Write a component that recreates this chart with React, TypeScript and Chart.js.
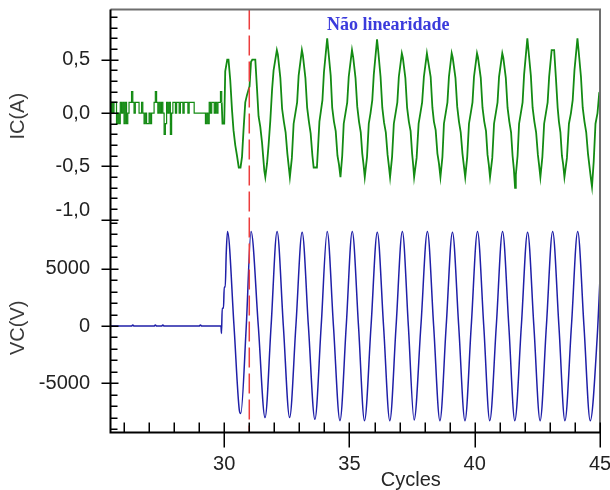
import React, { useEffect, useRef } from 'react';
import { Chart, registerables } from 'chart.js';

Chart.register(...registerables);

// ---------- axes ----------
const xRange = [25.46, 45];
const xMajorTicks = [30, 35, 40, 45];
const xMinorTicks = [26, 27, 28, 29, 31, 32, 33, 34, 36, 37, 38, 39, 41, 42, 43, 44];
const icRange = [-1.03, 0.97];
const icMajorTicks = [-1.0, -0.5, 0.0, 0.5];
const icMinorTicks = [-1.0, -0.9, -0.8, -0.7, -0.6, -0.5, -0.4, -0.3, -0.2, -0.1, 0.0, 0.1, 0.2, 0.3, 0.4, 0.5, 0.6, 0.7, 0.8, 0.9];
const vcRange = [-9300, 9000];
const vcMajorTicks = [-5000, 0, 5000];
const vcMinorTicks = [-9000, -8000, -7000, -6000, -5000, -4000, -3000, -2000, -1000, 0, 1000, 2000, 3000, 4000, 5000, 6000, 7000, 8000, 9000];

// ---------- labels ----------
const xTitle = 'Cycles';
const icTitle = 'IC(A)';
const vcTitle = 'VC(V)';
const annotationText = 'Não linearidade';
const eventCycle = 31.0;
const annotationPos = [36.55, 0.78];
const xTitlePos = 37.45;
const icRaisedLabel = -1.0;

// ---------- current IC(A) ----------
const icNoise = [
  [25.40, 0.1], [25.45, 0.0], [25.50, 0.1], [25.55, 0.0], [25.60, 0.1], [25.65, 0.1], [25.70, -0.1], [25.75, 0.0],
  [25.80, -0.1], [25.85, 0.1], [25.90, 0.0], [25.95, 0.1], [26.00, -0.1], [26.05, 0.1], [26.10, -0.1], [26.15, 0.0],
  [26.20, 0.1], [26.25, 0.1], [26.30, 0.2], [26.35, 0.1], [26.40, 0.0], [26.45, 0.1], [26.50, 0.1], [26.55, 0.1],
  [26.60, 0.0], [26.65, 0.0], [26.70, 0.1], [26.75, 0.0], [26.80, -0.1], [26.85, 0.0], [26.90, -0.1], [26.95, -0.1],
  [27.00, 0.0], [27.05, -0.1], [27.10, 0.0], [27.15, 0.0], [27.20, 0.1], [27.25, 0.2], [27.30, 0.1], [27.35, 0.0],
  [27.40, 0.1], [27.45, 0.0], [27.50, 0.1], [27.55, 0.0], [27.60, -0.2], [27.65, -0.1], [27.70, 0.1], [27.75, 0.0],
  [27.80, 0.1], [27.85, -0.2], [27.90, 0.0], [27.95, 0.1], [28.00, 0.1], [28.05, 0.0], [28.10, 0.1], [28.15, 0.1],
  [28.20, 0.0], [28.25, 0.1], [28.30, 0.1], [28.35, 0.0], [28.40, 0.1], [28.45, 0.1], [28.50, 0.1], [28.55, 0.0],
  [28.60, 0.1], [28.65, 0.1], [28.70, 0.1], [28.75, 0.1], [28.80, 0.0], [28.85, 0.0], [28.90, 0.0], [28.95, 0.0],
  [29.00, 0.0], [29.05, 0.0], [29.10, 0.0], [29.15, 0.0], [29.20, 0.0], [29.25, -0.1], [29.30, 0.0], [29.35, -0.1],
  [29.40, 0.1], [29.45, 0.0], [29.50, 0.1], [29.55, 0.1], [29.60, 0.0], [29.65, 0.1], [29.70, 0.0], [29.75, 0.1],
  [29.80, 0.1], [29.85, 0.2], [29.90, 0.1],
];
const icTransient = [
  [29.9, 0.1], [29.93, -0.1], [30.0, -0.1], [30.04, 0.39], [30.12, 0.5], [30.17, 0.5], [30.24, 0.31],
  [30.31, 0.03], [30.37, -0.16], [30.44, -0.3], [30.51, -0.4], [30.58, -0.51], [30.65, -0.51], [30.71, -0.41],
  [30.77, -0.16], [30.84, 0.1], [30.91, 0.17], [31.01, 0.25], [31.07, 0.48], [31.12, 0.5], [31.24, 0.5],
  [31.31, 0.22], [31.37, -0.03], [31.44, -0.13], [31.51, -0.28], [31.6, -0.54], [31.64, -0.6], [31.71, -0.47],
  [31.77, -0.3], [31.84, -0.07], [31.91, 0.22], [31.97, 0.4],
];
const icSteady = [
  [32.10, 0.59], [32.14, 0.55], [32.24, 0.33], [32.31, 0.04], [32.38, -0.08], [32.45, -0.18], [32.52, -0.38], [32.57, -0.49], [32.62, -0.60], [32.70, -0.42], [32.77, -0.10], [32.84, 0.0], [32.91, 0.10], [32.97, 0.35],
  [33.10, 0.59], [33.14, 0.54], [33.24, 0.33], [33.31, 0.05], [33.38, -0.08], [33.45, -0.19], [33.52, -0.40], [33.57, -0.51], [33.70, -0.51], [33.75, -0.30], [33.80, -0.08], [33.86, 0.02], [33.92, 0.12], [33.98, 0.38],
  [34.11, 0.70], [34.15, 0.60], [34.25, 0.35], [34.31, 0.05], [34.38, -0.08], [34.45, -0.17], [34.52, -0.40], [34.58, -0.48], [34.64, -0.60], [34.71, -0.40], [34.77, -0.10], [34.84, 0.0], [34.91, 0.10], [34.97, 0.34],
  [35.10, 0.59], [35.15, 0.52], [35.24, 0.33], [35.31, 0.06], [35.38, -0.08], [35.45, -0.18], [35.51, -0.38], [35.56, -0.48], [35.61, -0.60], [35.70, -0.41], [35.77, -0.10], [35.84, 0.0], [35.91, 0.12], [35.97, 0.36],
  [36.10, 0.69], [36.14, 0.60], [36.24, 0.34], [36.31, 0.05], [36.38, -0.09], [36.45, -0.18], [36.52, -0.39], [36.57, -0.49], [36.62, -0.60], [36.70, -0.41], [36.77, -0.10], [36.84, 0.0], [36.91, 0.10], [36.97, 0.34],
  [37.09, 0.56], [37.13, 0.52], [37.23, 0.33], [37.30, 0.05], [37.37, -0.08], [37.44, -0.17], [37.50, -0.38], [37.54, -0.48], [37.58, -0.60], [37.68, -0.42], [37.76, -0.10], [37.83, 0.0], [37.90, 0.10], [37.97, 0.34],
  [38.09, 0.56], [38.13, 0.50], [38.24, 0.34], [38.31, 0.05], [38.37, -0.08], [38.44, -0.16], [38.51, -0.38], [38.57, -0.47], [38.63, -0.60], [38.71, -0.41], [38.77, -0.10], [38.84, 0.0], [38.91, 0.10], [38.97, 0.34],
  [39.08, 0.56], [39.12, 0.52], [39.23, 0.33], [39.30, 0.06], [39.37, -0.08], [39.44, -0.18], [39.51, -0.38], [39.56, -0.48], [39.62, -0.60], [39.70, -0.41], [39.77, -0.10], [39.84, 0.0], [39.91, 0.10], [39.97, 0.34],
  [40.09, 0.56], [40.13, 0.52], [40.24, 0.33], [40.31, 0.05], [40.38, -0.08], [40.45, -0.17], [40.51, -0.39], [40.56, -0.48], [40.61, -0.60], [40.70, -0.42], [40.77, -0.10], [40.84, 0.0], [40.91, 0.10], [40.97, 0.34],
  [41.10, 0.56], [41.14, 0.52], [41.24, 0.33], [41.31, 0.05], [41.38, -0.08], [41.45, -0.18], [41.51, -0.40], [41.56, -0.52], [41.61, -0.70], [41.64, -0.58], [41.71, -0.40], [41.77, -0.10], [41.84, 0.0], [41.91, 0.10], [41.97, 0.36],
  [42.10, 0.70], [42.14, 0.60], [42.24, 0.35], [42.31, 0.05], [42.38, -0.08], [42.45, -0.18], [42.52, -0.39], [42.57, -0.49], [42.62, -0.60], [42.70, -0.41], [42.77, -0.10], [42.84, 0.0], [42.91, 0.10], [42.97, 0.34],
  [43.07, 0.59], [43.17, 0.59], [43.24, 0.33], [43.31, 0.05], [43.36, -0.08], [43.42, -0.18], [43.48, -0.40], [43.53, -0.48], [43.58, -0.60], [43.68, -0.42], [43.76, -0.10], [43.84, 0.0], [43.91, 0.12], [43.98, 0.40],
  [44.10, 0.70], [44.14, 0.60], [44.24, 0.34], [44.31, 0.05], [44.38, -0.08], [44.45, -0.18], [44.52, -0.38], [44.58, -0.50], [44.64, -0.62], [44.68, -0.69], [44.75, -0.45], [44.82, -0.10], [44.90, 0.0], [44.97, 0.19], [45.0, 0.20],
];

// ---------- voltage VC(V) ----------
const vcBaseline = [
  [25.4, 0], [26.3, 0], [26.35, 100], [26.4, 0], [27.2, 0], [27.25, 100], [27.3, 0], [27.5, 0], [27.55, 100],
  [27.6, 0], [29.0, 0], [29.05, 100], [29.1, 0], [29.87, 0],
];
const vcTransient = [
  [29.89, -650], [29.92, 1550], [29.97, 1550], [30.0, 3400], [30.04, 3400], [30.08, 6350], [30.13, 8250],
  [30.39, 0], [30.6, -7300], [30.66, -7650], [30.88, 0], [31.07, 8250], [31.36, 0], [31.63, -8000], [31.87, 0],
];
const vcSteady = [
  [32.11, 8250], [32.36, 0], [32.61, -8000], [32.86, 0],
  [33.11, 8200], [33.36, 0], [33.62, -8150], [33.87, 0],
  [34.11, 8250], [34.36, 0], [34.62, -8270], [34.87, 0],
  [35.11, 8250], [35.36, 0], [35.60, -8270], [35.86, 0],
  [36.11, 8200], [36.36, 0], [36.61, -8270], [36.86, 0],
  [37.11, 8250], [37.35, 0], [37.58, -8200], [37.85, 0],
  [38.11, 8250], [38.36, 0], [38.61, -8270], [38.86, 0],
  [39.11, 8200], [39.36, 0], [39.61, -8270], [39.86, 0],
  [40.11, 8250], [40.36, 0], [40.60, -8270], [40.86, 0],
  [41.11, 8250], [41.36, 0], [41.60, -8270], [41.86, 0],
  [42.11, 8200], [42.36, 0], [42.61, -8270], [42.86, 0],
  [43.11, 8250], [43.36, 0], [43.60, -8270], [43.86, 0],
  [44.11, 8250], [44.36, 0], [44.61, -8270], [44.89, -900], [45.0, 4200],
];

const toXY = (pts: number[][]) => pts.map(([x, y]) => ({ x, y }));

const tickFont = { family: "'Liberation Sans', Arial, sans-serif", size: 20 };
const titleFont = { family: "'Liberation Sans', Arial, sans-serif", size: 20 };

const zeroPad = (s: any) => {
  s.paddingTop = 0;
  s.paddingBottom = 0;
  s.paddingLeft = 0;
  s.paddingRight = 0;
};

const decorPlugin = {
  id: 'decor',
  afterDatasetsDraw(chart: any) {
    const { ctx, chartArea: a, scales } = chart;
    const xs = scales.x, yi = scales.yI, yv = scales.yV;
    ctx.save();
    // event marker
    const mx = xs.getPixelForValue(eventCycle);
    ctx.strokeStyle = '#ec3d3d';
    ctx.lineWidth = 1.5;
    ctx.setLineDash([20, 6]);
    ctx.beginPath();
    ctx.moveTo(mx, a.top);
    ctx.lineTo(mx, a.bottom);
    ctx.stroke();
    ctx.setLineDash([]);
    // frame top / right
    ctx.strokeStyle = '#6e6e6e';
    ctx.lineWidth = 2;
    ctx.beginPath();
    ctx.moveTo(a.left, a.top);
    ctx.lineTo(a.right, a.top);
    ctx.lineTo(a.right, a.bottom);
    ctx.stroke();
    // axes
    ctx.strokeStyle = '#000';
    ctx.lineWidth = 2;
    ctx.beginPath();
    ctx.moveTo(a.left, a.top);
    ctx.lineTo(a.left, a.bottom);
    ctx.lineTo(a.right, a.bottom);
    ctx.stroke();
    // ticks
    ctx.lineWidth = 1.5;
    ctx.beginPath();
    const yTick = (s: any, v: number, out: number, inn: number) => {
      const p = Math.round(s.getPixelForValue(v)) + 0.25;
      ctx.moveTo(a.left - out, p);
      ctx.lineTo(a.left + inn, p);
    };
    icMinorTicks.forEach((v) => yTick(yi, v, 0, 7));
    icMajorTicks.forEach((v) => yTick(yi, v, 9, 8));
    vcMinorTicks.forEach((v) => yTick(yv, v, 0, 7));
    vcMajorTicks.forEach((v) => yTick(yv, v, 9, 8));
    const xTick = (v: number, out: number, inn: number) => {
      const p = Math.round(xs.getPixelForValue(v)) + 0.25;
      ctx.moveTo(p, a.bottom - inn);
      ctx.lineTo(p, a.bottom + out);
    };
    xMinorTicks.forEach((v) => xTick(v, 0, 10));
    xMajorTicks.forEach((v) => xTick(v, 15, 10));
    ctx.stroke();
    // texts
    ctx.fillStyle = '#3b3bdc';
    ctx.font = "bold 18px 'Liberation Serif', 'Times New Roman', serif";
    ctx.textAlign = 'center';
    ctx.textBaseline = 'alphabetic';
    ctx.fillText(annotationText, xs.getPixelForValue(annotationPos[0]), yi.getPixelForValue(annotationPos[1]));
    ctx.fillStyle = '#262626';
    ctx.font = "20px 'Liberation Sans', Arial, sans-serif";
    ctx.fillText(xTitle, xs.getPixelForValue(xTitlePos), a.bottom + 53.5);
    ctx.restore();
  },
};

export default function App() {
  const ref = useRef<HTMLCanvasElement | null>(null);
  useEffect(() => {
    document.body.style.margin = '0';
    document.body.style.overflow = 'hidden';
    if (!ref.current) return;
    const chart = new Chart(ref.current, {
      type: 'line',
      data: {
        datasets: [
          {
            label: 'VC',
            data: toXY([...vcBaseline, ...vcTransient, ...vcSteady]),
            yAxisID: 'yV',
            borderColor: '#1f1fa8',
            borderWidth: 1.5,
            pointRadius: 0,
            cubicInterpolationMode: 'monotone',
            tension: 0.4,
            fill: false,
          },
          {
            label: 'IC noise',
            data: toXY(icNoise),
            yAxisID: 'yI',
            borderColor: '#128a12',
            borderWidth: 1.2,
            pointRadius: 0,
            stepped: true,
            fill: false,
          },
          {
            label: 'IC',
            data: toXY([...icTransient, ...icSteady]),
            yAxisID: 'yI',
            borderColor: '#138b13',
            borderWidth: 1.8,
            pointRadius: 0,
            tension: 0,
            fill: false,
          },
        ],
      },
      options: {
        animation: false,
        responsive: true,
        maintainAspectRatio: false,
        parsing: false as any,
        layout: { padding: { left: 0, top: 9.5, right: 10, bottom: 0 } },
        plugins: { legend: { display: false }, tooltip: { enabled: false } },
        scales: {
          x: {
            type: 'linear',
            min: xRange[0],
            max: xRange[1],
            afterBuildTicks: (s: any) => { s.ticks = xMajorTicks.map((v) => ({ value: v })); },
            afterFit: (s: any) => { s.height = 57.5; zeroPad(s); },
            grid: { display: false, drawTicks: false },
            border: { display: false },
            ticks: { font: tickFont, color: '#222', padding: 19.5, maxRotation: 0, autoSkip: false, callback: (v: any) => String(v) },
          },
          yV: {
            type: 'linear',
            position: 'left',
            stack: 'panels',
            stackWeight: 209.5,
            min: vcRange[0],
            max: vcRange[1],
            afterBuildTicks: (s: any) => { s.ticks = vcMajorTicks.map((v) => ({ value: v })); },
            afterFit: (s: any) => { s.width = 110.5; zeroPad(s); },
            grid: { display: false, drawTicks: false },
            border: { display: false },
            ticks: { font: tickFont, color: '#222', padding: 20.5, autoSkip: false, callback: (v: any) => String(v) },
            title: { display: true, text: vcTitle, font: titleFont, color: '#3a3a3a', padding: { top: 6, bottom: 0 } },
          },
          yI: {
            type: 'linear',
            position: 'left',
            stack: 'panels',
            stackWeight: 213.5,
            min: icRange[0],
            max: icRange[1],
            afterBuildTicks: (s: any) => { s.ticks = icMajorTicks.map((v) => ({ value: v })); },
            afterFit: (s: any) => { s.width = 110.5; zeroPad(s); },
            grid: { display: false, drawTicks: false },
            border: { display: false },
            ticks: {
              font: (c: any) => (c.tick && c.tick.value === icRaisedLabel ? { ...tickFont, lineHeight: 0.95 } : tickFont),
              color: '#222',
              padding: 20.5,
              autoSkip: false,
              callback: (v: any) => {
                const s = Number(v).toFixed(1).replace('.', ',');
                return Number(v) === icRaisedLabel ? [s, ''] : s;
              },
            },
            title: { display: true, text: icTitle, font: titleFont, color: '#3a3a3a', padding: { top: 6, bottom: 0 } },
          },
        },
      } as any,
      plugins: [decorPlugin],
    });
    return () => chart.destroy();
  }, []);
  return (
    <div style={{ width: '610px', height: '490px', position: 'relative' }}>
      <canvas ref={ref} style={{ display: 'block' }} />
    </div>
  );
}
